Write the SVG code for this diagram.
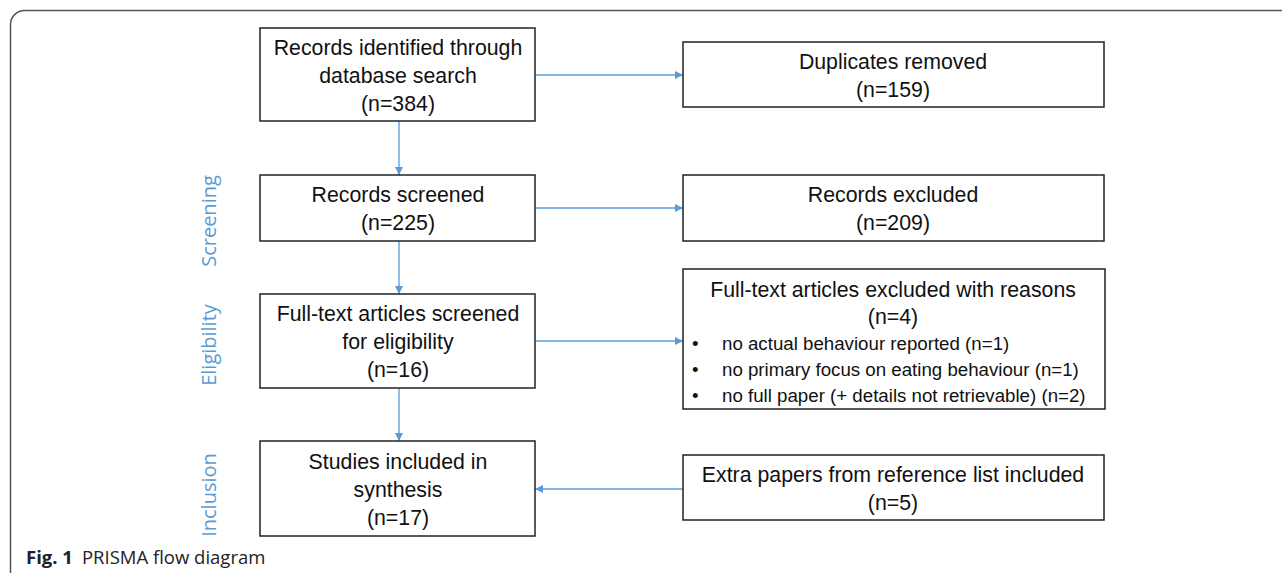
<svg xmlns="http://www.w3.org/2000/svg" width="1282" height="573" viewBox="0 0 1282 573">
<defs>
<marker id="ah" viewBox="0 0 10 10" refX="10" refY="5" markerWidth="8" markerHeight="8" markerUnits="userSpaceOnUse" orient="auto">
<path d="M0,0 L10,5 L0,10 z" fill="#5b9bd5"/>
</marker>
<style>
.box{fill:#fff;stroke:#222;stroke-width:1.5}
.t{font-family:"Liberation Sans",Arial,sans-serif;font-size:21.3px;fill:#111;text-anchor:middle}
.s{font-family:"Liberation Sans",Arial,sans-serif;font-size:18.7px;fill:#111}
.lab{font-family:"Open Sans","Liberation Sans",sans-serif;font-size:20px;fill:#5b9bd5;text-anchor:middle}
.c{stroke:#5b9bd5;stroke-width:1.3;fill:none;marker-end:url(#ah)}
</style>
</defs>
<rect width="1282" height="573" fill="#fff"/>
<rect x="10.5" y="10.5" width="1300" height="600" rx="14" fill="none" stroke="#555" stroke-width="1.5"/>
<g id="labels">
<text class="lab" transform="translate(216,221) rotate(-90)">Screening</text>
<text class="lab" transform="translate(216,345) rotate(-90)">Eligibility</text>
<text class="lab" transform="translate(216,495) rotate(-90)">Inclusion</text>
</g>
<g id="connectors">
<line class="c" x1="399" y1="121" x2="399" y2="175"/>
<line class="c" x1="399" y1="241" x2="399" y2="294"/>
<line class="c" x1="399" y1="388" x2="399" y2="441"/>
<line class="c" x1="535" y1="75" x2="683" y2="75"/>
<line class="c" x1="535" y1="208" x2="683" y2="208"/>
<line class="c" x1="535" y1="341" x2="683" y2="341"/>
<line class="c" x1="683" y1="489" x2="535" y2="489"/>
</g>
<g id="n1"><rect class="box" x="260" y="28" width="275" height="93"/>
<text class="t" x="398" y="55">Records identified through</text>
<text class="t" x="398" y="83">database search</text>
<text class="t" x="398" y="111">(n=384)</text></g>
<g id="n2"><rect class="box" x="683" y="42" width="421" height="65"/>
<text class="t" x="893" y="69">Duplicates removed</text>
<text class="t" x="893" y="97">(n=159)</text></g>
<g id="n3"><rect class="box" x="260" y="175" width="275" height="66"/>
<text class="t" x="398" y="202">Records screened</text>
<text class="t" x="398" y="230">(n=225)</text></g>
<g id="n4"><rect class="box" x="683" y="175" width="421" height="66"/>
<text class="t" x="893" y="202">Records excluded</text>
<text class="t" x="893" y="230">(n=209)</text></g>
<g id="n5"><rect class="box" x="260" y="294" width="275" height="94"/>
<text class="t" x="398" y="321">Full-text articles screened</text>
<text class="t" x="398" y="349">for eligibility</text>
<text class="t" x="398" y="377">(n=16)</text></g>
<g id="n6"><rect class="box" x="683" y="269" width="422" height="140"/>
<text class="t" x="893" y="297">Full-text articles excluded with reasons</text>
<text class="t" x="893" y="324">(n=4)</text>
<text class="s" x="692" y="350">•</text><text class="s" x="722" y="350">no actual behaviour reported (n=1)</text>
<text class="s" x="692" y="376">•</text><text class="s" x="722" y="376">no primary focus on eating behaviour (n=1)</text>
<text class="s" x="692" y="402">•</text><text class="s" x="722" y="402">no full paper (+ details not retrievable) (n=2)</text></g>
<g id="n7"><rect class="box" x="260" y="441" width="275" height="95"/>
<text class="t" x="398" y="469">Studies included in</text>
<text class="t" x="398" y="497">synthesis</text>
<text class="t" x="398" y="525">(n=17)</text></g>
<g id="n8"><rect class="box" x="683" y="455" width="421" height="65"/>
<text class="t" x="893" y="482">Extra papers from reference list included</text>
<text class="t" x="893" y="510">(n=5)</text></g>
<g id="caption"><text x="26" y="564" style="font-family:'Open Sans','Liberation Sans',sans-serif;font-size:18.5px;fill:#222"><tspan font-weight="bold">Fig. 1</tspan><tspan dx="9">PRISMA flow diagram</tspan></text></g>
</svg>
